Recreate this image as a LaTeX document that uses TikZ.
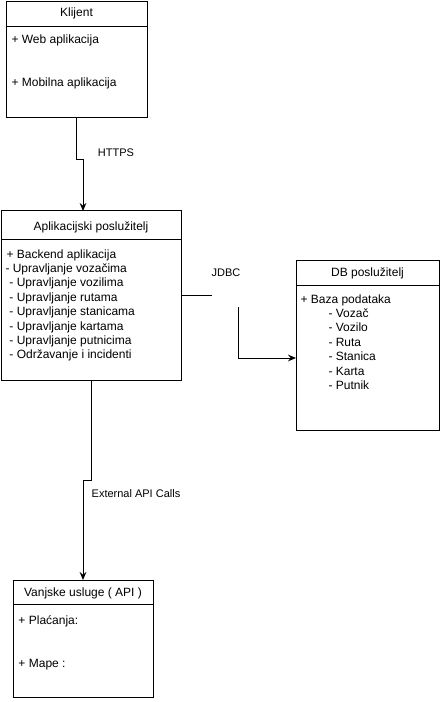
\documentclass[tikz,border=0pt]{standalone}
\usepackage{fontspec}
\setmainfont{Liberation Sans}
\usetikzlibrary{arrows.meta,positioning,calc}
\definecolor{LineBlack}{RGB}{0,0,0}

\begin{document}
\begin{tikzpicture}[x=0.75pt, y=-0.75pt, line width=0.75pt,
    box/.style 2 args={draw=LineBlack, anchor=north west, inner sep=0pt, outer sep=0pt,
        minimum width=#1*0.75pt, minimum height=#2*0.75pt},
    title/.style={anchor=base, inner sep=0pt, font=\fontsize{9}{11}\selectfont},
    item/.style={anchor=base west, inner sep=0pt, font=\fontsize{9}{11}\selectfont},
    lbl/.style={anchor=base, inner sep=0pt, font=\fontsize{8.25}{10}\selectfont},
    conn/.style={draw=LineBlack, -{Stealth[length=6pt, width=5pt, inset=2pt]}}]
    \useasboundingbox (0,0) rectangle (448,702);

    % Client
    \node[box={141}{116}] (klijent) at (6,2) {};
    \draw (klijent.north west) ++(0,25) -- ++(141,0);
    \node[title] (klijentT) at (76.5,17) {Klijent};
    \node[item] (klijentA) at (11,44) {+ Web aplikacija};
    \node[item] (klijentB) at (11,87) {+ Mobilna aplikacija};

    % Application server
    \node[box={180}{169}] (apps) at (1,211) {};
    \draw (apps.north west) ++(0,28) -- ++(180,0);
    \node[title] (appsT) at (91,230) {Aplikacijski poslužitelj};
    \node[item] (appsA) at (6,258) {+ Backend aplikacija};
    \foreach \t [count=\i] in {- Upravljanje vozačima}
        \node[item] (appsM\i) at (5,272.4) {\t};
    \foreach \t [count=\i] in {- Upravljanje vozilima, - Upravljanje rutama,
        - Upravljanje stanicama, - Upravljanje kartama,
        - Upravljanje putnicima, - Održavanje i incidenti}
        \node[item] (appsS\i) at (9,{286.8+14.4*(\i-1)}) {\t};

    % DB server
    \node[box={143}{170}] (db) at (296,260) {};
    \draw (db.north west) ++(0,25) -- ++(143,0);
    \node[title] (dbT) at (367.5,276) {DB poslužitelj};
    \node[item] (dbA) at (300,303) {+ Baza podataka};
    \foreach \t [count=\i] in {Vozač, Vozilo, Ruta, Stanica, Karta, Putnik}
        \node[item] (dbE\i) at (328,{317.4+14.4*(\i-1)}) {- \t};

    % External services
    \node[box={140}{117}] (api) at (13,580) {};
    \draw (api.north west) ++(0,24) -- ++(140,0);
    \node[title] (apiT) at (83,596) {Vanjske usluge ( API )};
    \node[item] (apiA) at (18,624) {+ Plaćanja:};
    \node[item] (apiB) at (18,667) {+ Mape :};

    % Connectors
    \draw[conn] (klijent.south) -- ++(0,42) -| ([xshift=-6pt]apps.north);
    \node[lbl] (https) at (116,157) {HTTPS};

    \draw (apps.east) -- ++(31,0) coordinate (jdbcA);
    \coordinate (jdbcB) at (238,307);
    \draw[conn] (jdbcB) |- ([yshift=-9.75pt]db.west);
    \node[lbl] (jdbc) at (226,276) {JDBC};

    \draw[conn] (apps.south) -- ++(0,100) -| (api.north);
    \node[lbl] (extapi) at (136,497) {External API Calls};
\end{tikzpicture}
\end{document}
